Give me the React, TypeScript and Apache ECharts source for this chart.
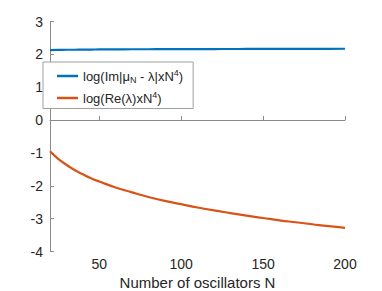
import React, { useEffect, useRef } from "react";
import * as echarts from "echarts";

const nValues = [20, 25, 30, 35, 40, 45, 50, 60, 70, 80, 90, 100, 110, 120, 130, 140, 150, 160, 170, 180, 190, 200];
const imSeries = [2.13, 2.135, 2.14, 2.14, 2.145, 2.145, 2.15, 2.15, 2.155, 2.155, 2.16, 2.16, 2.16, 2.162, 2.163, 2.164, 2.165, 2.166, 2.167, 2.168, 2.169, 2.17];
const reSeries = [-0.95, -1.18, -1.36, -1.52, -1.65, -1.77, -1.87, -2.05, -2.2, -2.34, -2.46, -2.56, -2.66, -2.75, -2.83, -2.91, -2.98, -3.05, -3.11, -3.17, -3.23, -3.28];
const xTicks = [50, 100, 150, 200];
const seriesNames = ["im", "re"];

const FONT = "Liberation Sans, Arial, Helvetica, sans-serif";
const TEXT = "#262626";

export default function App() {
  const ref = useRef<HTMLDivElement>(null);
  useEffect(() => {
    if (!ref.current) return;
    const chart = echarts.init(ref.current, undefined, { renderer: "svg" });
    const axisLine = { show: true, lineStyle: { color: "#8a8a8a", width: 1 } };
    chart.setOption({
      animation: false,
      backgroundColor: "#ffffff",
      textStyle: { fontFamily: FONT },
      grid: { left: 50, right: 37, top: 21.5, bottom: 39.5, containLabel: false, outerBoundsMode: "none" },
      legend: {
        left: 43,
        top: 62,
        orient: "vertical",
        backgroundColor: "#ffffff",
        borderColor: "#a0a0a0",
        borderWidth: 1,
        borderRadius: 0,
        padding: [6, 10, 4, 14],
        itemGap: 6,
        itemWidth: 21,
        itemHeight: 2.5,
        icon: "rect",
        data: seriesNames,
        formatter: (name: string) =>
          name === "im"
            ? "{a|log(Im|μ}{sub|N}{a| - λ|xN}{sup|4}{a|)}"
            : "{a|log(Re(λ)xN}{sup|4}{a|)}",
        textStyle: {
          color: TEXT,
          fontFamily: FONT,
          fontSize: 13,
          rich: {
            a: { fontSize: 13, fontFamily: FONT, color: TEXT, lineHeight: 16 },
            sub: { fontSize: 9, fontFamily: FONT, color: TEXT, verticalAlign: "bottom", lineHeight: 8 },
            sup: { fontSize: 9, fontFamily: FONT, color: TEXT, verticalAlign: "top", lineHeight: 8 },
          },
        },
      },
      xAxis: {
        type: "value",
        min: 20,
        max: 200,
        name: "Number of oscillators N",
        nameLocation: "middle",
        nameGap: 23,
        nameTextStyle: { color: TEXT, fontSize: 15, fontFamily: FONT },
        axisLine,
        axisTick: { show: true, inside: true, length: 4, lineStyle: { color: "#8a8a8a" }, customValues: xTicks },
        axisLabel: { color: TEXT, fontSize: 14, fontFamily: FONT, margin: 5, customValues: xTicks },
        splitLine: { show: false },
      },
      yAxis: {
        type: "value",
        min: -4,
        max: 3,
        interval: 1,
        axisLine,
        axisTick: { show: true, inside: true, length: 4, lineStyle: { color: "#8a8a8a" } },
        axisLabel: { color: TEXT, fontSize: 14, fontFamily: FONT, margin: 7 },
        splitLine: { show: false },
      },
      series: [
        {
          name: "im",
          type: "line",
          data: nValues.map((n, i) => [n, imSeries[i]]),
          showSymbol: false,
          smooth: true,
          lineStyle: { color: "#0072BD", width: 2.2 },
          itemStyle: { color: "#0072BD" },
        },
        {
          name: "re",
          type: "line",
          data: nValues.map((n, i) => [n, reSeries[i]]),
          showSymbol: false,
          smooth: true,
          lineStyle: { color: "#D95319", width: 2.2 },
          itemStyle: { color: "#D95319" },
        },
      ],
    });
    return () => chart.dispose();
  }, []);
  return <div ref={ref} style={{ position: "absolute", left: 0, top: 0, width: 382, height: 291 }} />;
}
